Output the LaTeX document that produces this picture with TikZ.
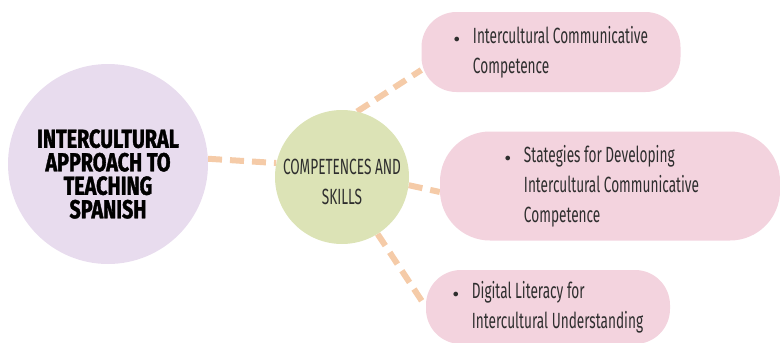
\documentclass[tikz,border=0pt]{standalone}
\usepackage{fontspec}
\setmainfont{Fira Sans}
\newfontfamily\titlefont[FakeStretch=0.76,BoldFeatures={FakeBold=1.4}]{Fira Sans}
\newfontfamily\leaffont[FakeStretch=0.62]{Fira Sans}
\usetikzlibrary{backgrounds}
\definecolor{blobpurple}{HTML}{E8DCEE}
\definecolor{blobgreen}{HTML}{DCE3B6}
\definecolor{leafpink}{HTML}{F3D3DE}
\definecolor{dashpeach}{HTML}{F5CBA8}
\definecolor{inkgray}{HTML}{2E2E2E}
\tikzset{
  blob/.style={circle, inner sep=0pt, align=center},
  leaf/.style={fill=leafpink, rounded corners=#1, inner sep=0pt,
    font=\leaffont\fontsize{22}{30}\selectfont, text=inkgray},
  link/.style={draw=dashpeach, line width=6pt, dash pattern=on 14pt off 8pt}
}
\newcommand{\leafitem}[1]{\begin{tabular}{@{}l@{\hspace{13pt}}l@{}}\raisebox{1pt}{\large$\bullet$} & #1\end{tabular}}
\begin{document}
\begin{tikzpicture}[x=1pt,y=-1pt]
        \useasboundingbox (0,0) rectangle (780,343);

        \node [blob, fill=blobpurple, minimum size=200pt] (main) at (108,164) {};
        \node [align=center, inner sep=0pt,
          font=\titlefont\bfseries\fontsize{26}{23.5}\selectfont] (maintext)
          at ([yshift=-10pt]main.center) {INTERCULTURAL\\APPROACH TO\\TEACHING\\SPANISH};
        \node [blob, fill=blobgreen, minimum size=134pt] (comp) at (342,177) {};
        \node [align=center, inner sep=0pt, text=inkgray,
          font=\leaffont\fontsize{22}{30}\selectfont] (comptext)
          at ([yshift=-5pt]comp.center) {COMPETENCES AND\\SKILLS};

        \node [leaf=35pt, minimum width=259pt, minimum height=80pt] (icc) at (551,52)
          {\leafitem{Intercultural Communicative\\ & Competence}};
        \node [leaf=50pt, minimum width=340pt, minimum height=109pt] (strat) at (610,186)
          {\raisebox{-3pt}{\leafitem{Stategies for Developing\\ & Intercultural Communicative\\ & Competence}}\hspace*{16pt}};
        \node [leaf=35pt, minimum width=244pt, minimum height=74pt] (digi) at (548,307)
          {\leafitem{Digital Literacy for\\ & Intercultural Understanding}};

        \begin{scope}[on background layer]
          \draw [link] (main.3) -- (comp.168);
          \draw [link] (comp.77) -- ([yshift=-18pt]icc.west);
          \draw [link] (comp.-7) -- ([yshift=-6pt]strat.west);
          \draw [link] (comp.-58) -- (digi.west);
        \end{scope}
    \end{tikzpicture}
\end{document}
